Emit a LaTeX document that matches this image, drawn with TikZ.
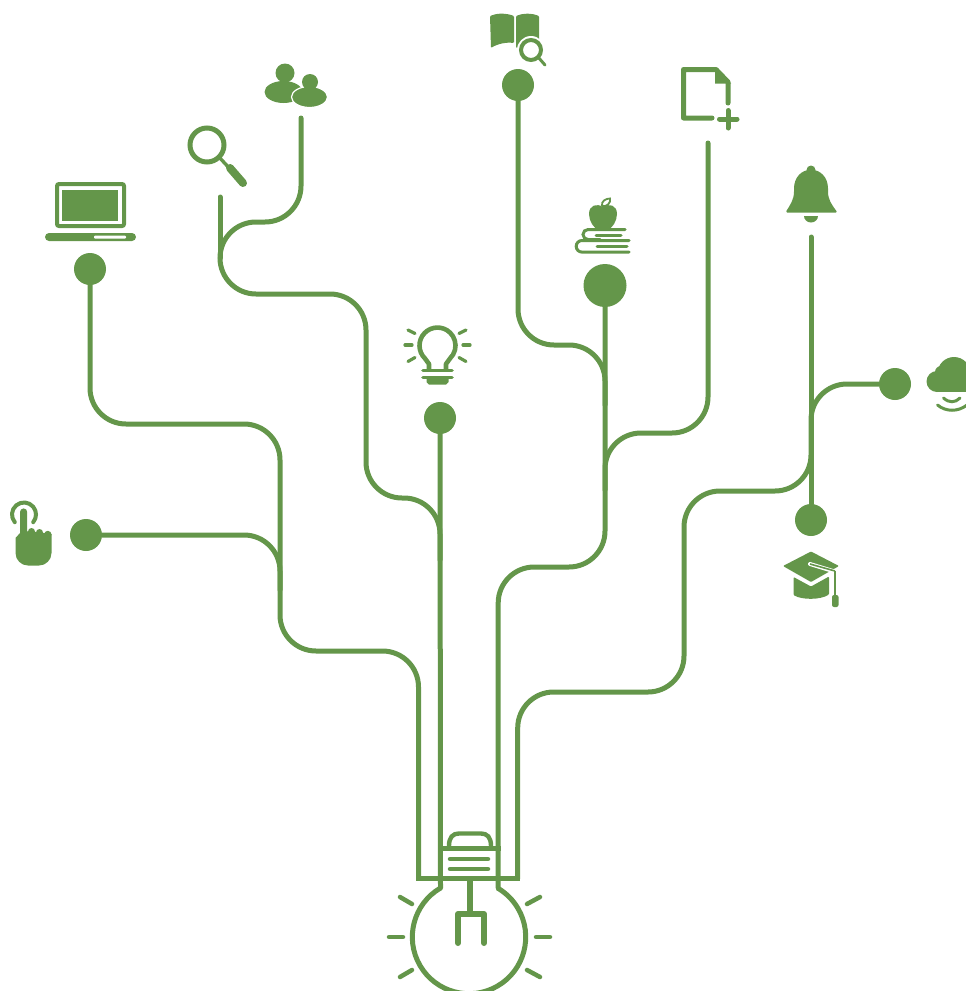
\documentclass[tikz,border=0pt]{standalone}
\usepackage{tikz}
\definecolor{leafgreen}{HTML}{64964A}
\tikzset{
	wire/.style={line width=5pt, color=leafgreen, line cap=round, rounded corners=36pt},
	dot/.style={circle, fill=leafgreen, minimum size=32pt, inner sep=0pt},
	icon/.style={line width=3pt, color=leafgreen, line cap=round},
	ray/.style={line width=4.5pt, color=leafgreen, line cap=round}
}
\begin{document}
\begin{tikzpicture}[x=1pt, y=-1pt]
			%%%%% START %%%%%
			\clip (0, 0) rectangle (966, 991);
			
			\node[dot] (laptopdot) at (90, 269) {};
			\node[dot] (handdot) at (86, 535) {};
			\node[dot] (ideadot) at (440, 418) {};
			\node[dot] (bookdot) at (518, 85) {};
			\node[dot, minimum size=43pt] (appledot) at (605, 285.5) {};
			\node[dot] (clouddot) at (895, 384) {};
			\node[dot] (capdot) at (811, 520) {};
			
			\coordinate (peopleend) at (301, 118);
			\coordinate (lensend) at (220, 197);
			\coordinate (fileend) at (708, 143);
			\coordinate (bellend) at (811, 237);
			\coordinate (sockA) at (418.5, 878.3);
			\coordinate (sockB) at (440.5, 888);
			\coordinate (sockC) at (498.2, 888);
			\coordinate (sockD) at (517.7, 878.3);
			
			% wires
			\draw[wire] (laptopdot) -- (90, 424) -- (280, 424) -- (280, 651) -- (418.5, 651) -- (sockA);
			\draw[wire] (handdot) -- (280, 535) -- (280, 590);
			\draw[wire] (peopleend) -- (301, 222) -- (220, 222) -- (220, 294) -- (366, 294) -- (366, 498) -- (440, 498) -- (440, 560);
			\draw[wire] (lensend) -- (220, 258);
			\draw[wire] (ideadot) -- (sockB);
			\draw[wire] (bookdot) -- (518, 345) -- (605, 345) -- (605, 405);
			\draw[wire] (appledot) -- (605, 567) -- (498.2, 567) -- (sockC);
			\draw[wire] (fileend) -- (708, 433) -- (605, 433) -- (605, 490);
			\draw[wire] (bellend) -- (capdot);
			\draw[wire] (clouddot) -- (811, 384) -- (811, 491) -- (684, 491) -- (684, 692) -- (517.7, 692) -- (sockD);
			
			% big bulb
			\draw[line width=5pt, color=leafgreen] (416, 878.3) -- (520.2, 878.3);
			\draw[line width=5pt, color=leafgreen] (438, 848) -- (500.7, 848);
			\draw[line width=4.4pt, color=leafgreen] (449, 846) .. controls (449, 837) and (453, 833.5) .. (459, 833.5) -- (481, 833.5) .. controls (487, 833.5) and (491, 837) .. (491, 846);
			\draw[ray] (450, 859) -- (488, 859);
			\draw[ray] (450, 869) -- (488, 869);
			\draw[line width=5pt, color=leafgreen] (sockB) arc (239.8:-59.8:56.7);
			\draw[line width=5.4pt, color=leafgreen] (470, 878) -- (470, 914);
			\draw[line width=6pt, color=leafgreen, line cap=round, line join=round] (458, 943) -- (458, 914) -- (484, 914) -- (484, 943);
			\draw[ray] (389, 937) -- (403, 937);
			\draw[ray] (536, 937) -- (550, 937);
			\draw[ray] (400, 897) -- (412, 904);
			\draw[ray] (527, 904) -- (540, 897);
			\draw[ray] (400, 977) -- (412, 970);
			\draw[ray] (527, 970) -- (540, 977);
			
			% laptop
			\draw[line width=4pt, color=leafgreen, rounded corners=2pt] (57, 184) rectangle (124, 226);
			\fill[leafgreen] (62, 190) rectangle (118, 221);
			\fill[leafgreen, rounded corners=4pt] (45, 233) rectangle (136, 241);
			\fill[white, rounded corners=1pt] (94, 235.5) rectangle (126, 238.5);
			
			% magnifier
			\draw[line width=5pt, color=leafgreen] (207, 145) circle (17);
			\draw[line width=3.4pt, color=leafgreen] (219, 157) -- (231, 170);
			\draw[line width=8pt, color=leafgreen, line cap=round] (230, 168) -- (243, 183);
			
			% people
			\fill[leafgreen] (285, 73) circle (9.5);
			\fill[leafgreen] (283.5, 92) ellipse (19 and 11);
			\draw[fill=leafgreen, draw=white, line width=1.2pt] (309.5, 97) ellipse (18 and 10.5);
			\fill[leafgreen] (310, 82) circle (8);
			
			% book
			\fill[leafgreen, rounded corners=1pt] (490, 16) .. controls (497, 13) and (506, 13) .. (514, 16) -- (514, 43) .. controls (506, 42) and (497, 44) .. (491, 48) -- cycle;
			\fill[leafgreen, rounded corners=1pt] (516, 16) .. controls (523, 13) and (532, 13) .. (539, 16) -- (539, 48) -- (516, 48) -- cycle;
			\fill[white] (531, 50) circle (14);
			\draw[line width=4pt, color=leafgreen] (531, 50) circle (10);
			\draw[icon] (538, 57) -- (545, 65);
			
			% new file
			\draw[line width=5pt, color=leafgreen, line cap=round, line join=round] (712, 118) -- (683.5, 118) -- (683.5, 69.5) -- (716, 69.5) -- (728, 82) -- (728, 103);
			\fill[leafgreen] (715, 69) -- (731, 83.5) -- (715, 83.5) -- cycle;
			\draw[line width=5pt, color=leafgreen, line cap=round] (719.5, 119) -- (737, 119);
			\draw[line width=5pt, color=leafgreen, line cap=round] (728, 110.5) -- (728, 128);
			
			% apple on books
			\fill[leafgreen] (603, 207) .. controls (597, 203) and (589, 205) .. (589, 214) .. controls (589, 221) and (594, 229) .. (598, 229) -- (608, 229) .. controls (612, 229) and (617, 221) .. (617, 214) .. controls (617, 205) and (609, 203) .. (603, 207) -- cycle;
			\draw[line width=1.8pt, color=leafgreen] (602, 206) .. controls (601, 201) and (606, 198.5) .. (610, 198.5) .. controls (611, 203) and (607, 207) .. (602, 206);
			\draw[line width=3pt, color=leafgreen, line cap=round] (625, 229.5) -- (588, 229.5) arc (270:90:5) -- (600, 239.5);
			\draw[line width=3pt, color=leafgreen, line cap=round] (629, 240.5) -- (582, 240.5) arc (270:90:5.8) -- (629, 252);
			\draw[line width=3pt, color=leafgreen, line cap=round] (596, 235) -- (621, 235);
			\draw[line width=3pt, color=leafgreen, line cap=round] (597, 246.5) -- (627, 246.5);
			
			% bell
			\fill[leafgreen] (811, 170) circle (4.5);
			\fill[leafgreen, rounded corners=1.5pt] (794, 190) .. controls (794, 177) and (802, 170) .. (811, 170) .. controls (820, 170) and (828, 177) .. (828, 190) .. controls (828, 200) and (832, 205) .. (837.5, 212.5) -- (785.5, 212.5) .. controls (790, 205) and (794, 200) .. (794, 190) -- cycle;
			\fill[leafgreen] (804, 216) -- (818, 216) arc (0:180:7 and 6.5) -- cycle;
			
			% cloud
			\fill[leafgreen] (937, 381.5) circle (10.5);
			\fill[leafgreen] (941, 372) circle (6);
			\fill[leafgreen] (954, 373.5) circle (16.5);
			\fill[leafgreen] (937, 374) rectangle (975, 392);
			\draw[line width=3pt, color=leafgreen, line cap=round] (943.5, 398) .. controls (949, 403) and (955, 403) .. (960, 398);
			\draw[line width=3pt, color=leafgreen, line cap=round] (937.5, 405) .. controls (946, 412) and (958, 412) .. (967, 405);
			
			% graduation cap
			\fill[leafgreen, rounded corners=1pt] (811, 551.5) -- (839, 566) -- (811, 582) -- (783, 566) -- cycle;
			\fill[leafgreen, rounded corners=1pt] (793.5, 577) -- (811, 586.5) -- (829, 576.5) -- (829, 594.5) .. controls (820, 600) and (802, 600) .. (793.5, 595) -- cycle;
			\draw[line width=4pt, color=white, line cap=round] (810, 564) -- (833, 571);
			\draw[line width=1.6pt, color=leafgreen] (810, 564) -- (835, 571);
			\draw[line width=2.8pt, color=leafgreen] (835, 571) -- (835, 597);
			\fill[leafgreen, rounded corners=2pt] (832, 595) rectangle (838.5, 607);
			
			% hand
			\draw[line width=4pt, color=leafgreen, line cap=round] (14.8, 522.2) arc (140:400:12);
			\fill[leafgreen] (20, 512) arc (180:360:3.6) -- (27.2, 534) -- (20, 534) -- cycle;
			\fill[leafgreen] (31.5, 531.5) circle (3.5);
			\fill[leafgreen] (39.5, 532.5) circle (3.5);
			\fill[leafgreen] (47.8, 534.5) circle (3.7);
			\fill[leafgreen] (15.5, 538) -- (15.5, 553) arc (180:90:12.5) -- (39, 565.5) arc (90:0:12.5) -- (51.5, 534) -- (29, 531) -- (20, 533) -- cycle;
			
			% small bulb
			\draw[line width=4.6pt, color=leafgreen, line join=round] (429, 369) -- (429, 364) -- (425, 358.5) arc (134:406:18) -- (446, 364) -- (446, 369);
			\foreach \ra/\rb/\rc/\rd in {405/345/412/345, 463/345/470/345, 408/330/415/333.5, 459/333.5/466/330, 408/361.5/415/357.5, 459/357.5/466/361.5}
				\draw[ray, line width=3.2pt] (\ra, \rb) -- (\rc, \rd);
			\draw[ray, line width=3.6pt] (423, 370.5) -- (452, 370.5);
			\draw[ray, line width=3.6pt] (423, 377.5) -- (452, 377.5);
			\fill[leafgreen] (426.5, 378) -- (448.5, 378) -- (448.5, 382) -- (446, 384.5) -- (429, 384.5) -- (426.5, 382) -- cycle;
			
			%%%%% END %%%%%
\end{tikzpicture}
\end{document}
